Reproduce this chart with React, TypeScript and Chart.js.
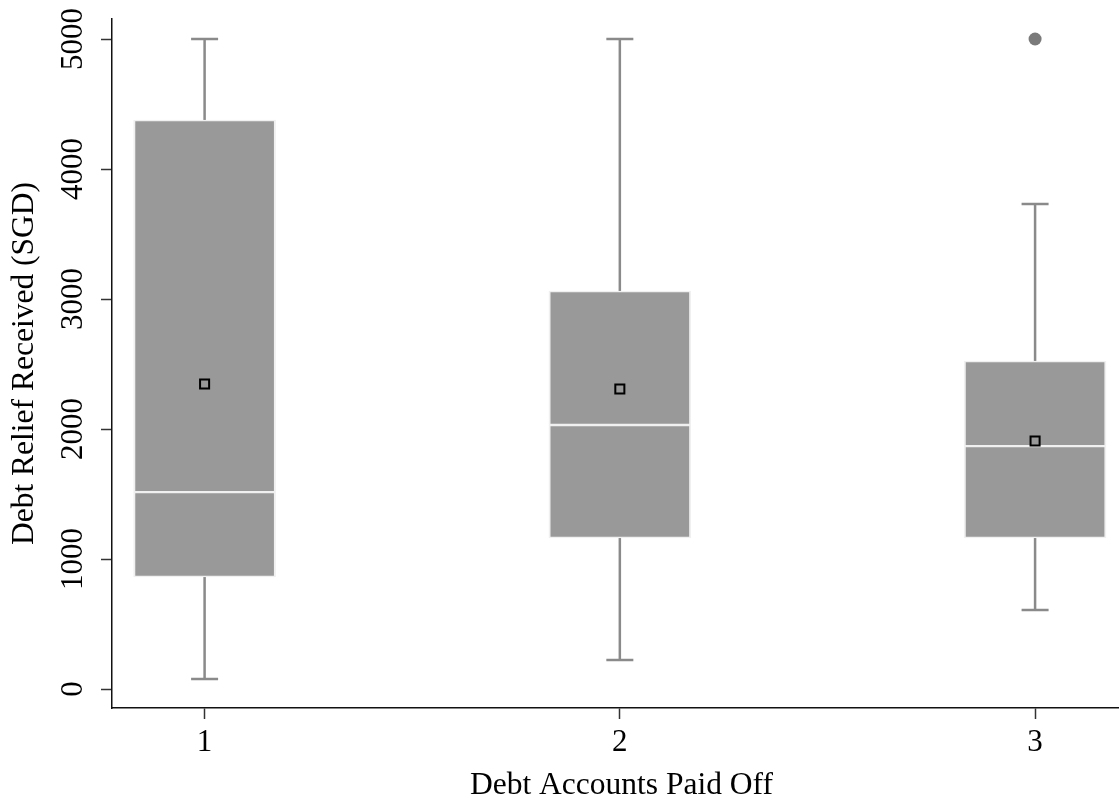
import React, { useEffect, useRef } from 'react';
import { Chart, registerables } from 'chart.js';

Chart.register(...registerables);

// ---- data ----
const categories = [1, 2, 3];
const whiskerLow = [77, 223, 608];
const q1 = [862, 1162, 1162];
const median = [1515, 2031, 1869];
const q3 = [4377, 3062, 2523];
const whiskerHigh = [5000, 5000, 3731];
const means = [2346, 2308, 1908];
const outlierX = [3];
const outlierY = [5000];
const xTickValues = [1, 2, 3];
const yTickValues = [0, 1000, 2000, 3000, 4000, 5000];
const xTitle = 'Debt Accounts Paid Off';
const yTitle = 'Debt Relief Received (SGD)';

const FONT = "'Liberation Serif', 'Times New Roman', serif";

const whiskerPlugin = {
  id: 'whiskers',
  beforeDatasetsDraw(chart: any) {
    const { ctx, scales } = chart;
    const x = scales.x;
    const y = scales.y;
    ctx.save();
    ctx.strokeStyle = '#8a8a8a';
    ctx.lineWidth = 2.5;
    categories.forEach((c, i) => {
      const px = x.getPixelForValue(c);
      const capHalf = 13.5;
      const pairs = [
        [q3[i], whiskerHigh[i]],
        [q1[i], whiskerLow[i]],
      ];
      pairs.forEach(([from, to]) => {
        const y0 = y.getPixelForValue(from);
        const y1 = y.getPixelForValue(to);
        ctx.beginPath();
        ctx.moveTo(px, y0);
        ctx.lineTo(px, y1);
        ctx.moveTo(px - capHalf, y1);
        ctx.lineTo(px + capHalf, y1);
        ctx.stroke();
      });
    });
    ctx.restore();
  },
};

export default function App() {
  const ref = useRef<HTMLCanvasElement | null>(null);

  useEffect(() => {
    if (!ref.current) return;
    const boxStyle = {
      type: 'bar' as const,
      backgroundColor: '#999999',
      borderColor: '#f0f0f0',
      borderWidth: { top: 1.5, bottom: 1.5, left: 2, right: 2 },
      borderSkipped: false,
      barThickness: 142,
      grouped: false,
    };
    const chart = new Chart(ref.current, {
      type: 'scatter',
      data: {
        datasets: [
          {
            type: 'scatter',
            label: 'Mean',
            data: categories.map((c, i) => ({ x: c, y: means[i] })),
            pointStyle: 'rect',
            pointRadius: 6.4,
            backgroundColor: '#999999',
            borderColor: '#000000',
            borderWidth: 2,
          },
          {
            type: 'scatter',
            label: 'Outliers',
            data: outlierX.map((c, i) => ({ x: c, y: outlierY[i] })),
            pointStyle: 'circle',
            pointRadius: 6.5,
            backgroundColor: '#7a7a7a',
            borderColor: '#7a7a7a',
            borderWidth: 0,
          },
          {
            ...boxStyle,
            label: 'Upper box',
            data: categories.map((c, i) => ({ x: c, y: [median[i], q3[i]] })),
          } as any,
          {
            ...boxStyle,
            label: 'Lower box',
            data: categories.map((c, i) => ({ x: c, y: [q1[i], median[i]] })),
          } as any,
        ],
      },
      options: {
        animation: false,
        responsive: false,
        devicePixelRatio: 1,
        layout: { padding: { top: 19, right: 0, bottom: 0, left: 0 }, autoPadding: false },
        plugins: {
          legend: { display: false },
          tooltip: { enabled: false },
        },
        scales: {
          x: {
            type: 'linear',
            min: 0.777,
            max: 3.231,
            offset: false,
            afterFit: (s: any) => {
              s.height = 97;
            },
            afterBuildTicks: (s: any) => {
              s.ticks = xTickValues.map((v) => ({ value: v }));
            },
            ticks: {
              color: '#000',
              padding: 5.5,
              font: { family: FONT, size: 31 },
              callback: (v: any) => String(v),
            },
            grid: {
              offset: false,
              drawOnChartArea: false,
              drawTicks: true,
              tickLength: 11,
              tickColor: '#333',
              tickWidth: 1.5,
            },
            border: { display: true, color: '#111', width: 1.5 },
            title: {
              display: true,
              text: xTitle,
              color: '#000',
              font: { family: FONT, size: 31.5 },
              padding: { top: -2, bottom: 0 },
            },
          },
          y: {
            type: 'linear',
            min: -146,
            max: 5154,
            afterFit: (s: any) => {
              s.width = 112;
            },
            afterBuildTicks: (s: any) => {
              s.ticks = yTickValues.map((v) => ({ value: v }));
            },
            ticks: {
              minRotation: 90,
              maxRotation: 90,
              crossAlign: 'center',
              padding: -4,
              color: '#000',
              font: { family: FONT, size: 31 },
              callback: (v: any) => String(v),
            },
            grid: {
              drawOnChartArea: false,
              drawTicks: true,
              tickLength: 11,
              tickColor: '#333',
              tickWidth: 1.5,
            },
            border: { display: true, color: '#111', width: 1.5 },
            title: {
              display: true,
              text: yTitle,
              color: '#000',
              font: { family: FONT, size: 31.5 },
              padding: { top: 6, bottom: 0 },
            },
          },
        },
      } as any,
      plugins: [whiskerPlugin],
    });
    return () => chart.destroy();
  }, []);

  return (
    <div
      style={{
        position: 'fixed',
        left: 0,
        top: 0,
        width: 1119,
        height: 805,
        overflow: 'hidden',
        background: '#fff',
      }}
    >
      <canvas ref={ref} width={1131} height={805} style={{ display: 'block', width: 1131, height: 805 }} />
    </div>
  );
}
